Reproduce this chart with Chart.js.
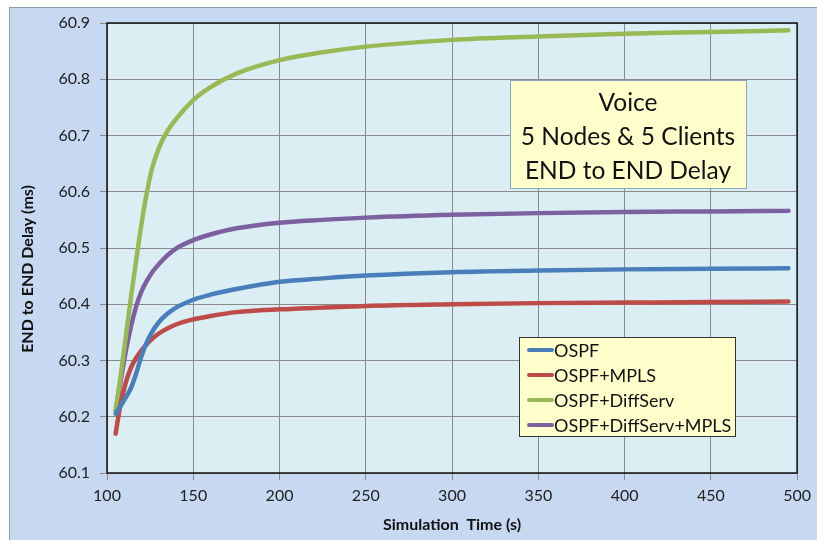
<!DOCTYPE html>
<html>
<head>
<meta charset="utf-8">
<script src="https://cdn.jsdelivr.net/npm/chart.js@4.4.0/dist/chart.umd.min.js"></script>
<style>
  html, body { margin: 0; padding: 0; background: #fff; }
  #dataviz { width: 817px; height: 540px; }
</style>
</head>
<body>
<div id="dataviz"><canvas id="miGrafico" width="817" height="540"></canvas></div>
<script>
// tiempos de simulacion (s)
const tiempos = [105, 108, 111, 114, 117, 120, 123, 126, 130, 135, 140, 150, 160, 175, 200, 225, 250, 300, 350, 400, 450, 495];

// retardo extremo a extremo (ms) por escenario
const ospf = [60.205, 60.22, 60.235, 60.252, 60.278, 60.308, 60.332, 60.35, 60.368, 60.383, 60.394, 60.408, 60.417, 60.427, 60.44, 60.446, 60.451, 60.457, 60.46, 60.462, 60.463, 60.464];
const ospfMpls = [60.17, 60.225, 60.262, 60.288, 60.305, 60.318, 60.329, 60.338, 60.348, 60.357, 60.364, 60.373, 60.379, 60.386, 60.391, 60.394, 60.397, 60.4, 60.402, 60.403, 60.404, 60.405];
const ospfDiffserv = [60.21, 60.275, 60.345, 60.415, 60.48, 60.543, 60.597, 60.64, 60.677, 60.708, 60.729, 60.763, 60.786, 60.81, 60.834, 60.848, 60.858, 60.87, 60.876, 60.881, 60.884, 60.887];
const ospfDiffservMpls = [60.21, 60.265, 60.318, 60.362, 60.397, 60.423, 60.441, 60.456, 60.471, 60.487, 60.499, 60.514, 60.524, 60.535, 60.545, 60.55, 60.554, 60.559, 60.562, 60.564, 60.565, 60.566];

const nombres = ["OSPF", "OSPF+MPLS", "OSPF+DiffServ", "OSPF+DiffServ+MPLS"];
const colores = ["#4a7ebb", "#be4b48", "#98b954", "#7d60a0"];
const series = [ospf, ospfMpls, ospfDiffserv, ospfDiffservMpls];

const cuadroTexto = ["Voice", "5 Nodes & 5 Clients", "END to END Delay"];
const tituloX = "Simulation  Time (s)";
const tituloY = "END to END Delay (ms)";

const fuente = "Lato, 'Noto Sans', sans-serif";

// fondos del grafico y del area de trazado
const fondo = {
  id: "fondo",
  beforeDraw(chart) {
    const ctx = chart.ctx;
    const a = chart.chartArea;
    ctx.save();
    ctx.fillStyle = "#ffffff";
    ctx.fillRect(0, 0, chart.width, chart.height);
    ctx.fillStyle = "#c6d9f1";
    ctx.fillRect(9.5, 7.5, chart.width + 20, chart.height + 20);
    ctx.strokeStyle = "#8d9db3";
    ctx.lineWidth = 1;
    ctx.strokeRect(9.5, 7.5, chart.width + 20, chart.height + 20);
    ctx.fillStyle = "#dbeef4";
    ctx.fillRect(a.left, a.top, a.right - a.left, a.bottom - a.top);
    ctx.restore();
  },
  afterDatasetsDraw(chart) {
    const ctx = chart.ctx;
    const a = chart.chartArea;
    ctx.save();
    ctx.strokeStyle = "#111";
    ctx.lineWidth = 1.5;
    ctx.strokeRect(a.left, a.top, a.right - a.left, a.bottom - a.top);
    // titulo del eje Y (Excel lo centra mas abajo)
    ctx.translate(28, 269);
    ctx.rotate(-Math.PI / 2);
    ctx.fillStyle = "#111";
    ctx.font = "bold 16px " + fuente;
    ctx.textAlign = "center";
    ctx.textBaseline = "middle";
    ctx.fillText(tituloY, 0, 0);
    ctx.restore();
  },
};

// cuadro de texto y leyenda dentro del area
const cuadros = {
  id: "cuadros",
  afterDraw(chart) {
    const ctx = chart.ctx;
    ctx.save();
    // cuadro de titulo
    ctx.fillStyle = "#ffffcc";
    ctx.fillRect(510.5, 80.5, 236, 108);
    ctx.strokeStyle = "#8ea2bd";
    ctx.lineWidth = 1;
    ctx.strokeRect(510.5, 80.5, 236, 108);
    ctx.fillStyle = "#111";
    ctx.font = "24.5px " + fuente;
    ctx.textAlign = "center";
    ctx.textBaseline = "middle";
    cuadroTexto.forEach(function (t, i) {
      ctx.fillText(t, 628, 103 + i * 34);
    });

    // leyenda
    ctx.fillStyle = "#ffffcc";
    ctx.fillRect(519.5, 337.5, 216, 99);
    ctx.strokeStyle = "#333";
    ctx.strokeRect(519.5, 337.5, 216, 99);
    ctx.font = "18px " + fuente;
    ctx.textAlign = "left";
    chart.data.datasets.forEach(function (ds, i) {
      const y = 350 + i * 25;
      ctx.strokeStyle = ds.borderColor;
      ctx.lineWidth = 4;
      ctx.lineCap = "round";
      ctx.beginPath();
      ctx.moveTo(529, y);
      ctx.lineTo(552, y);
      ctx.stroke();
      ctx.fillStyle = "#111";
      ctx.fillText(ds.label, 554, y + 1);
    });
    ctx.restore();
  },
};

const ctx = document.getElementById("miGrafico").getContext("2d");

const miGrafico = new Chart(ctx, {
  type: "line",
  data: {
    datasets: series.map(function (s, i) {
      return {
        label: nombres[i],
        borderColor: colores[i],
        backgroundColor: colores[i],
        borderWidth: 4.5,
        borderCapStyle: "round",
        pointRadius: 0,
        fill: false,
        cubicInterpolationMode: "monotone",
        data: tiempos.map(function (t, j) {
          return { x: t, y: s[j] };
        }),
      };
    }),
  },
  options: {
    responsive: false,
    devicePixelRatio: 1,
    animation: false,
    layout: { padding: { top: 23, right: 16, left: 0, bottom: 0 } },
    plugins: {
      legend: { display: false },
      tooltip: { enabled: false },
    },
    scales: {
      x: {
        type: "linear",
        min: 100,
        max: 500,
        afterFit(scale) { scale.height = 67; },
        ticks: {
          stepSize: 50,
          padding: 6,
          color: "#222",
          font: { family: fuente, size: 16 },
        },
        grid: { color: "#8a8a8a", lineWidth: 1, tickLength: 7 },
        border: { display: false },
        title: {
          display: true,
          text: tituloX,
          color: "#111",
          font: { family: fuente, size: 16, weight: "bold" },
          padding: { top: 0, bottom: 6 },
        },
      },
      y: {
        type: "linear",
        min: 60.1,
        max: 60.9,
        afterFit(scale) { scale.width = 107; },
        ticks: {
          stepSize: 0.1,
          padding: 10,
          color: "#222",
          font: { family: fuente, size: 16 },
          callback: function (v) { return v.toFixed(1); },
        },
        grid: { color: "#8a8a8a", lineWidth: 1, tickLength: 7 },
        border: { display: false },
      },
    },
  },
  plugins: [fondo, cuadros],
});
</script>
</body>
</html>
